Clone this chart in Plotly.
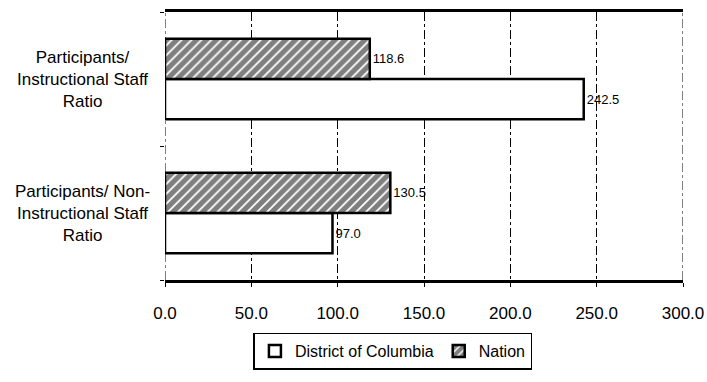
import plotly.graph_objects as go

# categories listed bottom -> top (plotly puts first category at the bottom)
categories = ["Participants/ Non-Instructional Staff Ratio",
              "Participants/ Instructional Staff Ratio"]
cat_labels = ["Participants/ Non-<br>Instructional Staff<br>Ratio",
              "Participants/<br>Instructional Staff<br>Ratio"]
dc_vals = [97.0, 242.5]
nation_vals = [130.5, 118.6]
x_ticks = [0, 50, 100, 150, 200, 250, 300]

FONT = "Liberation Sans, Arial, sans-serif"

fig = go.Figure()
fig.add_trace(go.Bar(
    y=categories, x=dc_vals, orientation="h", name="District of Columbia",
    marker=dict(color="white", line=dict(color="black", width=2.5)),
    texttemplate="%{x:.1f}", textposition="outside",
    textfont=dict(size=13, color="black", family=FONT),
    cliponaxis=False,
))
fig.add_trace(go.Bar(
    y=categories, x=nation_vals, orientation="h", name="Nation",
    marker=dict(color="white", line=dict(color="black", width=2.5),
                pattern=dict(shape="/", fgcolor="black", bgcolor="white",
                             size=7, solidity=0.75)),
    texttemplate="%{x:.1f}", textposition="outside",
    textfont=dict(size=13, color="black", family=FONT),
    cliponaxis=False,
))

# centered category labels on the left
for c, lab in zip(categories, cat_labels):
    fig.add_annotation(x=-0.16, xref="paper", y=c, yref="y", text=lab,
                       showarrow=False, xanchor="center", align="center",
                       font=dict(size=17, color="black", family=FONT))

# dashed lines at the range edges (plotly skips edge gridlines)
for xv in (x_ticks[0], x_ticks[-1]):
    fig.add_shape(type="line", xref="x", yref="paper", x0=xv, x1=xv, y0=0, y1=1,
                  line=dict(color="black", width=1, dash="dashdot"), layer="below")

fig.update_layout(
    width=707, height=382,
    margin=dict(l=165, r=24, t=12, b=102, autoexpand=False),
    paper_bgcolor="white", plot_bgcolor="white",
    barmode="group", bargap=0.4, bargroupgap=0,
    font=dict(family=FONT, color="black", size=17),
    showlegend=True,
    legend=dict(orientation="h", x=0.44, xanchor="center", y=-0.196, yanchor="top",
                bordercolor="black", borderwidth=1.5, font=dict(size=16),
                itemwidth=30, tracegroupgap=0),
    xaxis=dict(range=[0, 300], tickvals=x_ticks, tickformat=".1f",
               showgrid=True, gridcolor="black", griddash="dashdot", gridwidth=1,
               showline=True, linecolor="black", linewidth=2.5, mirror=True,
               zeroline=False, ticks="outside", ticklen=4, tickcolor="black",
               ticklabelstandoff=12, tickfont=dict(size=17), automargin=False),
    yaxis=dict(showticklabels=False, showgrid=False, showline=False,
               zeroline=False, ticks="outside", tickson="boundaries",
               ticklen=4, tickcolor="black", automargin=False),
)

# page body has a default 8px margin - drop it so the figure fills the window
fig.write_html("out.html", config={"displayModeBar": False},
               post_script="document.body.style.margin='0';document.body.style.overflow='hidden';")
